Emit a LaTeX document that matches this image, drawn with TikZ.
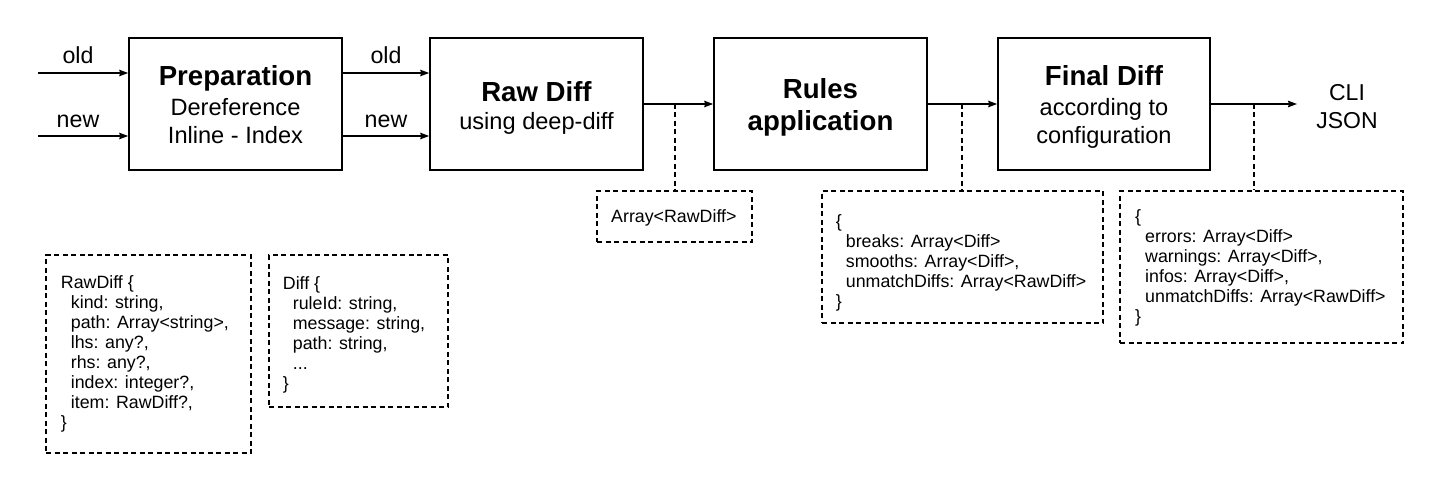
\documentclass[tikz,border=0pt]{standalone}
\usepackage{fontspec}
\setmainfont{Liberation Sans}
\usetikzlibrary{arrows.meta}
\newcommand\mytstrut{\rule{0pt}{22pt}}
\newcommand\myostrut{\rule{0pt}{20pt}}
\newcommand\mycstrut{\rule{0pt}{15pt}}
\newcommand\myind{\hspace*{10pt}}
\newcommand\mybig{\fontsize{27.6}{28}\selectfont\bfseries}
\begin{document}
\begin{tikzpicture}[x=1pt,y=-1pt,
  box/.style={draw, line width=1.6pt, minimum width=213pt, minimum height=132pt, inner sep=0pt},
  dbox/.style={draw, line width=1.1pt, dash pattern=on 5pt off 3.5pt, inner sep=0pt},
  dline/.style={line width=1.1pt, dash pattern=on 5pt off 3.5pt},
  arr/.style={line width=1.3pt, -{Stealth[length=9pt,width=6.5pt,inset=1pt]}},
  ttl/.style={align=center, inner sep=0pt, anchor=north, font=\fontsize{23.6}{28}\selectfont},
  code/.style={align=left, inner sep=0pt, anchor=north west, font=\fontsize{17.8}{20}\selectfont},
  lbl/.style={inner sep=0pt, anchor=base, font=\fontsize{23.2}{28}\selectfont}
]
\useasboundingbox (0,0) rectangle (1440,492);

% main boxes
\node[box] (prep)  at (235.5,104) {};
\node[box] (raw)   at (536.5,104) {};
\node[box] (rules) at (820.5,104) {};
\node[box, minimum width=212pt] (final) at (1104,104) {};

\node[ttl] (prept)  at (235.5,63.7) {\mytstrut{\mybig Preparation}\\[2pt]Dereference\\Inline - Index};
\node[ttl] (rawt)   at (536.5,79.7) {\mytstrut{\mybig Raw Diff}\\using deep-diff};
\node[ttl] (rulest) at (820.5,76.3) {\mytstrut{\mybig Rules}\\[3.7pt]{\mybig application}};
\node[ttl] (finalt) at (1104,63) {\mytstrut{\mybig Final Diff}\\[2pt]according to\\configuration};

% inputs
\coordinate (inold) at (38,73);
\coordinate (innew) at (38,136);
\draw[arr] (inold) -- (inold -| prep.west);
\draw[arr] (innew) -- (innew -| prep.west);
\draw[arr] (prep.east |- inold) -- (raw.west |- inold);
\draw[arr] (prep.east |- innew) -- (raw.west |- innew);
\node[lbl] (old1) at (78,63.3) {old};
\node[lbl] (new1) at (78,127.3) {new};
\node[lbl] (old2) at (386,63.3) {old};
\node[lbl] (new2) at (386,127.3) {new};

% main flow
\draw[arr] (raw.east) -- (rules.west);
\draw[arr] (rules.east) -- (final.west);
\coordinate (outend) at (1297,104);
\draw[arr] (final.east) -- (outend);
\node[ttl, font=\fontsize{23}{28}\selectfont] (out) at (1347,80) {\myostrut CLI\\JSON};

% dashed boxes
\node[dbox, minimum width=155pt, minimum height=51pt] (arrbox) at (674.5,216.5) {};
\node[code] (arrtxt) at (611,207.7) {\mycstrut Array<RawDiff>};

\node[dbox, minimum width=281pt, minimum height=132pt] (rulesout) at (962.5,257) {};
\node[code] (rulesouttxt) at (835.7,212) {\mycstrut\{\\
\myind breaks: Array<Diff>\\
\myind smooths: Array<Diff>,\\
\myind unmatchDiffs: Array<RawDiff>\\
\}};

\node[dbox, minimum width=283pt, minimum height=152pt] (finalout) at (1261.5,267) {};
\node[code] (finalouttxt) at (1135,207) {\mycstrut\{\\
\myind errors: Array<Diff>\\
\myind warnings: Array<Diff>,\\
\myind infos: Array<Diff>,\\
\myind unmatchDiffs: Array<RawDiff>\\
\}};

\node[dbox, minimum width=205pt, minimum height=198pt] (rawbox) at (148.5,354) {};
\node[code] (rawboxtxt) at (60.7,273) {\mycstrut RawDiff \{\\
\myind kind: string,\\
\myind path: Array<string>,\\
\myind lhs: any?,\\
\myind rhs: any?,\\
\myind index: integer?,\\
\myind item: RawDiff?,\\
\}};

\node[dbox, minimum width=179pt, minimum height=152pt] (diffbox) at (358.5,331) {};
\node[code] (diffboxtxt) at (282.7,274) {\mycstrut Diff \{\\
\myind ruleId: string,\\
\myind message: string,\\
\myind path: string,\\
\myind ...\\
\}};

% taps
\coordinate (t1) at (675,104);
\coordinate (t2) at (962,104);
\coordinate (t3) at (1254,104);
\draw[dline] (t1) -- (t1 |- arrbox.north);
\draw[dline] (t2) -- (t2 |- rulesout.north);
\draw[dline] (t3) -- (t3 |- finalout.north);
\end{tikzpicture}
\end{document}
